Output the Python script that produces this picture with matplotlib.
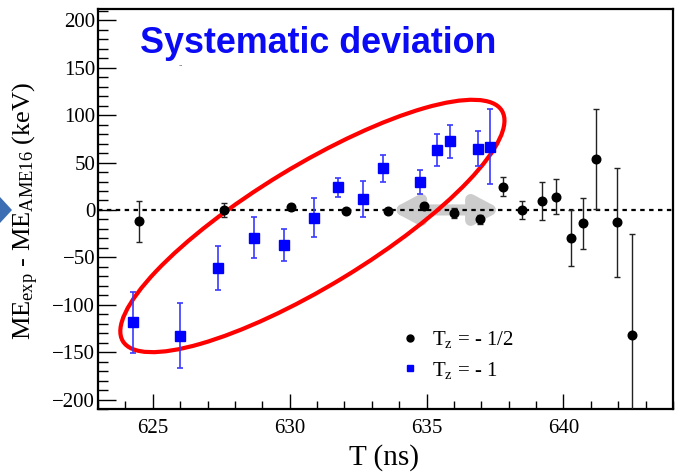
import matplotlib
matplotlib.use("Agg")
import matplotlib.pyplot as plt
from matplotlib.patches import Ellipse, Polygon
from matplotlib.lines import Line2D
import matplotlib.transforms as mtransforms

plt.rcParams['font.family'] = ['Liberation Serif', 'DejaVu Serif']
plt.rcParams['mathtext.fontset'] = 'custom'
plt.rcParams['mathtext.rm'] = 'Liberation Serif'
plt.rcParams['mathtext.it'] = 'Liberation Serif:italic'

# ---- data ----
black_x = [624.5, 627.6, 630.05, 632.05, 633.6, 634.9, 636.0, 636.95, 637.8, 638.5,
           639.2, 639.74, 640.28, 640.73, 641.2, 641.94, 642.5]
black_y = [-11.9, 0, 3.5, -1, -1, 4.5, -3, -10, 24.6, 0,
           9.8, 14, -29.5, -14, 53.5, -13, -131.9]
black_err = [21.6, 7, 3, 2, 2, 3, 5, 5, 9.7, 9.8,
             20, 18.4, 29.3, 26.7, 53, 57.5, 107]

blue_x = [624.26, 625.98, 627.37, 628.69, 629.8, 630.88, 631.78, 632.66, 633.4,
          634.76, 635.38, 635.87, 636.86, 637.3]
blue_y = [-118.5, -132.6, -61.5, -29.2, -36.9, -8.1, 23.9, 11.6, 43.8,
          29.2, 63.6, 72.5, 64.7, 66.8]
blue_err = [32.2, 34.3, 23.2, 21.6, 17, 20.6, 10, 19.3, 14.1,
            12.7, 16.9, 17.6, 18.3, 39.4]

x_ticks = [625, 630, 635, 640]
y_ticks = [-200, -150, -100, -50, 0, 50, 100, 150, 200]

W, H = 680, 476
fig = plt.figure(figsize=(W / 100, H / 100), dpi=100)
ax = fig.add_axes([98 / W, 1 - 409 / H, (673 - 98) / W, (409 - 9) / H])
ax.set_xlim(623, 644)
ax.set_ylim(-210, 212)

# zero line
ax.axhline(0, color='black', lw=1.6, ls=(0, (2, 2)), zorder=2)

# grey double arrow (decoration)
ax.annotate('', xy=(633.68, 0), xytext=(637.75, 0),
            arrowprops=dict(arrowstyle='<|-|>,head_length=1.4,head_width=0.75',
                            color='#cccccc', lw=8, shrinkA=0, shrinkB=0),
            zorder=1)

# red ellipse (drawn in pixel units around a data-space centre)
ell_trans = fig.dpi_scale_trans + mtransforms.ScaledTranslation(630.83, -16.9, ax.transData)
ell = Ellipse((0, 0), width=4.436, height=1.204, angle=31.3, fill=False,
              edgecolor='#ff0000', lw=3.0, transform=ell_trans, zorder=3)
ax.add_patch(ell)

ax.errorbar(black_x, black_y, yerr=black_err, fmt='o', color='black', ecolor='#222222',
            ms=6.2, elinewidth=1.0, capsize=2.2, capthick=1.0, zorder=4)
ax.errorbar(blue_x, blue_y, yerr=blue_err, fmt='s', color='#0000ff', ecolor='#3a3aff',
            ms=6.5, elinewidth=1.2, capsize=2.2, capthick=1.2, zorder=4)

# ticks
ax.set_xticks(x_ticks)
ax.set_yticks(y_ticks)
ax.set_xticks([v for v in range(623, 645)], minor=True)
ax.set_yticks([v for v in range(-210, 211, 10)], minor=True)
ax.tick_params(axis='both', which='both', direction='in', top=False, right=False,
               labelsize=15, width=1.0)
ax.tick_params(axis='y', which='major', length=13, pad=2)
ax.tick_params(axis='y', which='minor', length=7)
ax.tick_params(axis='x', which='major', length=11, pad=7)
ax.tick_params(axis='x', which='minor', length=6)
for s in ax.spines.values():
    s.set_linewidth(1.6)

ax.set_xlabel('T (ns)', fontsize=21)
ax.xaxis.set_label_coords((384 - 98) / (673 - 98), -(458 - 409) / 400.0)
ax.xaxis.label.set_va('center')
ax.set_ylabel(r'$\mathrm{ME_{exp}}$ - $\mathrm{ME_{AME16}}$ (keV)', fontsize=19)
ax.yaxis.set_label_coords(-(98 - 26) / 575.0, (409 - 211) / 400.0)
ax.yaxis.label.set_va('center')

# legend
handles = [Line2D([], [], ls='none', marker='o', color='black', ms=5),
           Line2D([], [], ls='none', marker='s', color='#0000ff', ms=5)]
leg = ax.legend(handles, [r'T$_{\mathrm{z}}$ = - 1/2', r'T$_{\mathrm{z}}$ = - 1'],
                loc='center left', bbox_to_anchor=(399.6 / W, 1 - 355 / H),
                bbox_transform=fig.transFigure, frameon=False, fontsize=15,
                handlelength=1.0, handletextpad=0.55, labelspacing=0.45,
                borderpad=0, borderaxespad=0)

# title annotation
fig.text(140 / W, 1 - 53 / H, 'Systematic deviation', color='#0a0af5',
         fontsize=25.8, fontweight='bold', family=['Liberation Sans', 'DejaVu Sans'],
         va='baseline', ha='left')
fig.text(181 / W, 1 - 66 / H, '..', color='#333333', fontsize=6, ha='center')

# partial blue arrow at left edge
fig.patches.append(Polygon([(0, 1 - 197 / H), (12 / W, 1 - 210 / H), (0, 1 - 223 / H)],
                           closed=True, transform=fig.transFigure, facecolor='#3c6eb4',
                           edgecolor='none', figure=fig))

fig.savefig('out.png', dpi=100)
